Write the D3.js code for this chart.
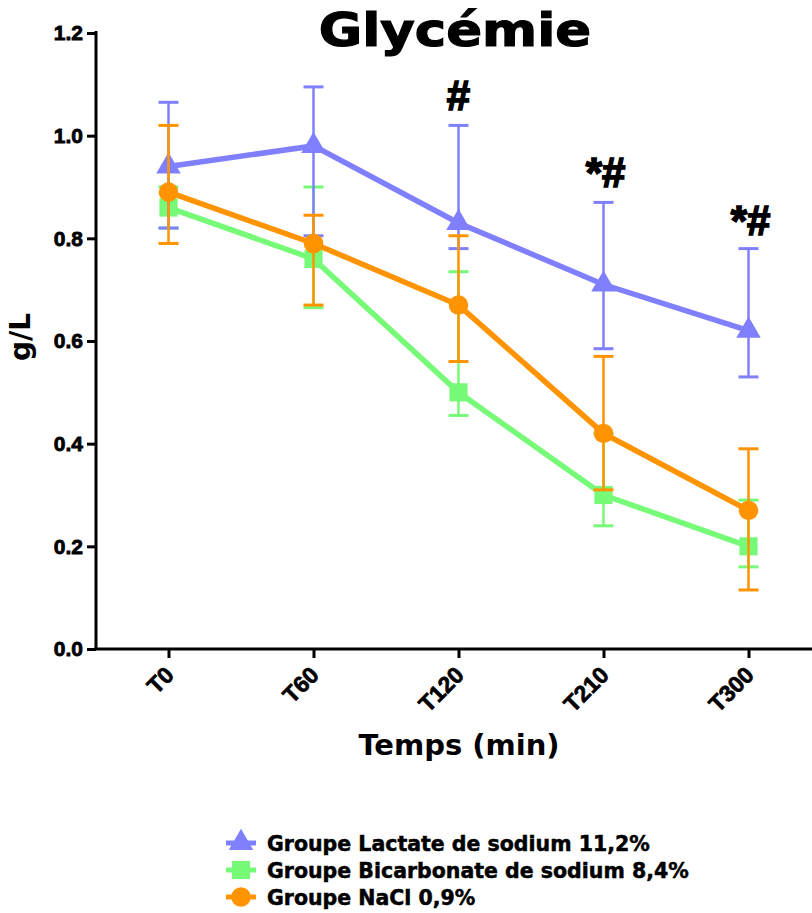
<!DOCTYPE html>
<html>
<head>
<meta charset="utf-8">
<script src="https://cdn.jsdelivr.net/npm/d3@7"></script>
<style>
  body { margin: 0; background: #fff; }
  text { font-family: "Liberation Sans", Arial, sans-serif; font-weight: bold; }
  .wide { font-family: "DejaVu Sans", sans-serif; }
</style>
</head>
<body>
<div id="chart"></div>
<script>
// time points
const times = ["T0", "T60", "T120", "T210", "T300"];
const yTicks = [0, 0.2, 0.4, 0.6, 0.8, 1.0, 1.2];

// means and error bar ends
const lactateMean  = [0.94, 0.98, 0.83, 0.71, 0.62];
const lactateHigh  = [1.065, 1.095, 1.02, 0.87, 0.78];
const lactateLow   = [0.82, 0.805, 0.78, 0.585, 0.53];

const bicarbMean   = [0.86, 0.76, 0.50, 0.30, 0.20];
const bicarbHigh   = [0.90, 0.90, 0.735, 0.42, 0.29];
const bicarbLow    = [0.82, 0.665, 0.455, 0.24, 0.16];

const naclMean     = [0.89, 0.79, 0.67, 0.42, 0.27];
const naclHigh     = [1.02, 0.845, 0.805, 0.57, 0.39];
const naclLow      = [0.79, 0.67, 0.56, 0.31, 0.115];

// significance marks above the lactate group (baseline level, g/L)
const marks = ["", "", "#", "*#", "*#"];
const markY = [null, null, 1.05, 0.90, 0.807];

const series = [
  { name: "Groupe Bicarbonate de sodium 8,4%", color: "#77fa77", symbol: "square", mean: bicarbMean, hi: bicarbHigh, lo: bicarbLow },
  { name: "Groupe Lactate de sodium 11,2%", color: "#8080ff", symbol: "triangle", mean: lactateMean, hi: lactateHigh, lo: lactateLow },
  { name: "Groupe NaCl 0,9%", color: "#ff9400", symbol: "circle", mean: naclMean, hi: naclHigh, lo: naclLow }
];
const legendOrder = [1, 0, 2];

const W = 812, H = 913;
const svg = d3.select("#chart").append("svg").attr("width", W).attr("height", H);

const x = d3.scalePoint().domain(times).range([96, 821]).padding(0.5);
const y = d3.scaleLinear().domain([0, 1.2]).range([649, 33]);

// title (stretched a little, like the original)
svg.append("text")
  .attr("class", "wide")
  .attr("transform", "translate(455,46) scale(1.15,1)")
  .attr("text-anchor", "middle")
  .attr("font-size", 46)
  .attr("stroke", "#000").attr("stroke-width", 1.2)
  .text("Glycémie");

// axes
const yAxis = svg.append("g")
  .attr("transform", "translate(96,0)")
  .call(d3.axisLeft(y).tickValues(yTicks).tickFormat(d3.format(".1f")).tickSizeOuter(0).tickSize(9).tickPadding(4));
const xAxis = svg.append("g")
  .attr("transform", "translate(0,649)")
  .call(d3.axisBottom(x).tickSizeOuter(0).tickSize(9));

[yAxis, xAxis].forEach(g => {
  g.select(".domain").attr("stroke", "#000").attr("stroke-width", 3);
  g.selectAll(".tick line").attr("stroke", "#000").attr("stroke-width", 3);
});
// x axis runs to the edge
xAxis.select(".domain").attr("d", "M94,0H" + W);
yAxis.select(".domain").attr("d", "M0,31V650");

yAxis.selectAll(".tick text")
  .attr("font-size", 21).attr("fill", "#000")
  .attr("stroke", "#000").attr("stroke-width", 0.8)
  .attr("font-family", "Liberation Sans").attr("font-weight", "bold");
xAxis.selectAll(".tick text")
  .attr("font-size", 23).attr("fill", "#000")
  .attr("stroke", "#000").attr("stroke-width", 0.7)
  .attr("font-family", "Liberation Sans").attr("font-weight", "bold")
  .attr("text-anchor", "end")
  .attr("x", 0).attr("y", 0).attr("dy", "0.7em")
  .attr("transform", "translate(-5,16) rotate(-45)");

// axis titles
svg.append("text")
  .attr("class", "wide")
  .attr("transform", "translate(30,337) rotate(-90)")
  .attr("text-anchor", "middle")
  .attr("font-size", 28)
  .text("g/L");
svg.append("text")
  .attr("class", "wide")
  .attr("x", 459).attr("y", 755)
  .attr("text-anchor", "middle")
  .attr("font-size", 29)
  .text("Temps (min)");

const symbolType = { square: d3.symbolSquare, triangle: d3.symbolTriangle, circle: d3.symbolCircle };
const symbolSize = { square: 330, triangle: 260, circle: 300 };

const line = d3.line().x((d, i) => x(times[i])).y(d => y(d));

series.forEach(s => {
  const g = svg.append("g");
  // error bars
  times.forEach((t, i) => {
    const cx = x(t);
    g.append("line").attr("x1", cx).attr("x2", cx)
      .attr("y1", y(s.hi[i])).attr("y2", y(s.lo[i]))
      .attr("stroke", s.color).attr("stroke-width", 2.5);
    [s.hi[i], s.lo[i]].forEach(v => {
      g.append("line").attr("x1", cx - 10).attr("x2", cx + 10)
        .attr("y1", y(v)).attr("y2", y(v))
        .attr("stroke", s.color).attr("stroke-width", 3);
    });
  });
  g.append("path").datum(s.mean)
    .attr("fill", "none").attr("stroke", s.color).attr("stroke-width", 5.5)
    .attr("d", line);
  g.selectAll(".pt").data(s.mean).enter().append("path")
    .attr("transform", (d, i) => `translate(${x(times[i])},${y(d)})`)
    .attr("d", d3.symbol().type(symbolType[s.symbol]).size(symbolSize[s.symbol]))
    .attr("fill", s.color);
});

// significance
svg.selectAll(".mark").data(times.filter((t, i) => marks[i])).enter().append("text")
  .attr("x", t => x(t) + (marks[times.indexOf(t)].length > 1 ? 2 : 0))
  .attr("y", t => y(markY[times.indexOf(t)]))
  .attr("text-anchor", "middle")
  .attr("font-size", 42)
  .attr("stroke", "#000").attr("stroke-width", 1.6)
  .text(t => marks[times.indexOf(t)]);

// legend
const lg = svg.append("g");
legendOrder.forEach((si, k) => {
  const s = series[si];
  const ly = 843 + k * 27;
  lg.append("line").attr("x1", 226).attr("x2", 256).attr("y1", ly).attr("y2", ly)
    .attr("stroke", s.color).attr("stroke-width", 5);
  lg.append("path").attr("transform", `translate(241,${ly})`)
    .attr("d", d3.symbol().type(symbolType[s.symbol]).size(symbolSize[s.symbol]))
    .attr("fill", s.color);
  lg.append("text").attr("class", "wide").attr("x", 267).attr("y", ly + 8)
    .attr("font-size", 20.5)
    .attr("stroke", "#000").attr("stroke-width", 0.5)
    .text(s.name);
});
</script>
</body>
</html>
